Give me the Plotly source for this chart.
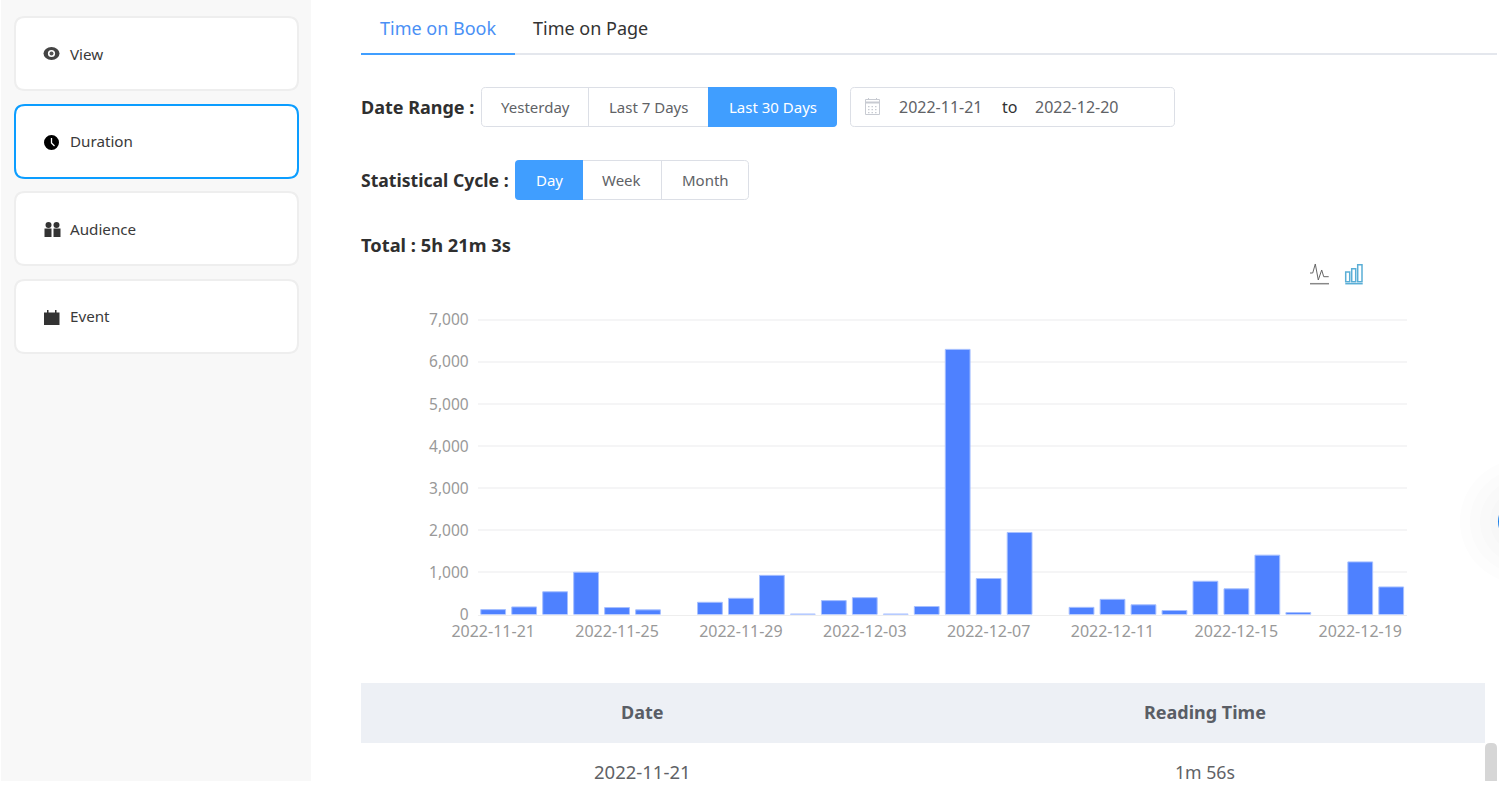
import plotly.graph_objects as go

W = 1499
H = 799

dates = ["2022-11-21", "2022-11-22", "2022-11-23", "2022-11-24", "2022-11-25", "2022-11-26",
         "2022-11-27", "2022-11-28", "2022-11-29", "2022-11-30", "2022-12-01", "2022-12-02",
         "2022-12-03", "2022-12-04", "2022-12-05", "2022-12-06", "2022-12-07", "2022-12-08",
         "2022-12-09", "2022-12-10", "2022-12-11", "2022-12-12", "2022-12-13", "2022-12-14",
         "2022-12-15", "2022-12-16", "2022-12-17", "2022-12-18", "2022-12-19", "2022-12-20"]
seconds = [116, 180, 540, 1005, 165, 110, 0, 290, 385, 930, 12, 330, 400, 12, 190,
           6300, 855, 1950, 0, 170, 360, 230, 95, 790, 610, 1410, 45, 0, 1250, 655]
x_ticks = dates[::4]
y_ticks = [0, 1000, 2000, 3000, 4000, 5000, 6000, 7000]

FONT = "Noto Sans"
BLUE = "#409eff"
BORDER = "#dcdfe6"

shapes = []
notes = []


def X(px):
    return px / W


def Y(py):
    return 1 - py / H


def rect(x0, y0, x1, y1, fill=None, line=None, lw=1):
    shapes.append(dict(type="rect", xref="paper", yref="paper", x0=X(x0), x1=X(x1), y0=Y(y0), y1=Y(y1),
                       fillcolor=fill or "rgba(0,0,0,0)", line=dict(color=line or "rgba(0,0,0,0)", width=lw)))


def circle(cx, cy, rx, ry=None, fill=None):
    ry = ry or rx
    shapes.append(dict(type="circle", xref="paper", yref="paper", x0=X(cx - rx), x1=X(cx + rx),
                       y0=Y(cy - ry), y1=Y(cy + ry), fillcolor=fill, line=dict(width=0)))


def line(points, color, lw=1):
    d = "M" + " L".join(f"{X(a):.5f},{Y(b):.5f}" for a, b in points)
    shapes.append(dict(type="path", xref="paper", yref="paper", path=d, line=dict(color=color, width=lw)))


# rounded box, corners given separately so button groups can square off one side
def rbox(x0, y0, x1, y1, r=4, fill=None, edge=None, lw=1, left=True, right=True):
    rl = r if left else 0
    rr = r if right else 0
    d = (f"M{X(x0 + rl):.5f},{Y(y0):.5f} L{X(x1 - rr):.5f},{Y(y0):.5f} "
         f"Q{X(x1):.5f},{Y(y0):.5f} {X(x1):.5f},{Y(y0 + rr):.5f} "
         f"L{X(x1):.5f},{Y(y1 - rr):.5f} Q{X(x1):.5f},{Y(y1):.5f} {X(x1 - rr):.5f},{Y(y1):.5f} "
         f"L{X(x0 + rl):.5f},{Y(y1):.5f} Q{X(x0):.5f},{Y(y1):.5f} {X(x0):.5f},{Y(y1 - rl):.5f} "
         f"L{X(x0):.5f},{Y(y0 + rl):.5f} Q{X(x0):.5f},{Y(y0):.5f} {X(x0 + rl):.5f},{Y(y0):.5f} Z")
    shapes.append(dict(type="path", xref="paper", yref="paper", path=d, fillcolor=fill or "rgba(0,0,0,0)",
                       line=dict(color=edge or "rgba(0,0,0,0)", width=lw)))


def text(px, py, s, size=15, color="#333333", anchor="left", bold=False):
    if bold:
        s = f"<b>{s}</b>"
    notes.append(dict(xref="paper", yref="paper", x=X(px), y=Y(py), text=s, showarrow=False, xanchor=anchor,
                      yanchor="middle", align=anchor, borderpad=0, borderwidth=0,
                      font=dict(family=FONT, size=size, color=color)))


# sidebar
rect(1, 0, 311, 781, fill="#f8f8f8")
cards = [("View", 17, 90, "#eeeeee", 54.2), ("Duration", 105, 178, "#0b9dff", 141.5),
         ("Audience", 192, 265, "#eeeeee", 229.2), ("Event", 280, 353, "#eeeeee", 316.2)]
for name, top, bottom, edge, label_y in cards:
    rbox(15, top, 298, bottom, r=10, fill="#ffffff", edge=edge, lw=2)
    text(70, label_y, name, size=15.2, color="#3a3a3a")

# eye
circle(51.5, 53.5, 8, 6.5, "#444444")
circle(51.5, 53.5, 3.6, None, "#ffffff")
circle(51.5, 53.5, 2, None, "#555555")
# clock
circle(51.5, 142.5, 7.5, None, "#000000")
line([(51.5, 138), (51.5, 143), (54.5, 146)], "#ffffff", 1.3)
# audience
circle(48.5, 225, 3, None, "#333333")
circle(56.5, 225, 3, None, "#333333")
rect(44.5, 228.5, 51.5, 237, fill="#333333")
rect(53.5, 228.5, 60.5, 237, fill="#333333")
# calendar
rect(44, 312.5, 59.5, 325, fill="#333333")
rect(47, 310, 48.5, 313, fill="#333333")
rect(55, 310, 56.5, 313, fill="#333333")

# tabs
text(380, 28, "Time on Book", size=18, color="#4a90f5")
text(533, 28, "Time on Page", size=18, color="#333333")
rect(361, 53, 1497, 55, fill="#e4e7ed")
rect(361, 53, 515, 55, fill=BLUE)

# date range
text(361, 106.7, "Date Range :", size=18, color="#2f2f2f", bold=True)
rbox(481.5, 87.5, 836.5, 126.5, fill="#ffffff", edge=BORDER)
rbox(708, 87, 837, 127, fill=BLUE, left=False)
line([(588.5, 87.5), (588.5, 126.5)], BORDER)
text(535, 107, "Yesterday", size=15, color="#606266", anchor="center")
text(648.5, 107, "Last 7 Days", size=15, color="#606266", anchor="center")
text(772.5, 107, "Last 30 Days", size=15, color="#ffffff", anchor="center")

rbox(850.5, 87.5, 1174.5, 126.5, fill="#ffffff", edge=BORDER)
rect(865.5, 99.5, 879.5, 114.5, line="#c8cbd2")
line([(865.5, 102.5), (879.5, 102.5)], "#c8cbd2", 2)
line([(868.5, 98), (868.5, 100)], "#c8cbd2")
line([(876.5, 98), (876.5, 100)], "#c8cbd2")
for dot_y in (106, 109, 112):
    for dot_x in (868, 871.5, 875):
        rect(dot_x, dot_y, dot_x + 1.5, dot_y + 1.2, fill="#c8cbd2")
text(940.5, 107, "2022-11-21", size=16, color="#606266", anchor="center")
text(1009.5, 107, "to", size=16, color="#303133", anchor="center")
text(1077, 107, "2022-12-20", size=16, color="#606266", anchor="center")

# statistical cycle
text(361, 179.7, "Statistical Cycle :", size=17.6, color="#2f2f2f", bold=True)
rbox(515.5, 160.5, 748.5, 199.5, fill="#ffffff", edge=BORDER)
rbox(515, 160, 583, 200, fill=BLUE, right=False)
line([(661.5, 160.5), (661.5, 199.5)], BORDER)
text(549, 180, "Day", size=15, color="#ffffff", anchor="center")
text(621.5, 180, "Week", size=15, color="#606266", anchor="center")
text(705, 180, "Month", size=15, color="#606266", anchor="center")

text(361, 244.5, "Total : 5h 21m 3s", size=18.3, color="#2f2f2f", bold=True)

# chart type switch
line([(1310, 273), (1312.7, 273), (1315.3, 264), (1318.3, 280), (1321.7, 270), (1323.7, 276.7), (1328.7, 276.7)],
     "#666666", 1)
line([(1310, 283.7), (1329, 283.7)], "#888888", 1.5)
rect(1345.7, 272, 1349.7, 281.7, line="#5aaed6", lw=1.5)
rect(1351.7, 268.7, 1355.7, 281.7, line="#5aaed6", lw=1.5)
rect(1357.7, 264.7, 1362, 281.7, line="#5aaed6", lw=1.5)
line([(1345.3, 283.7), (1362.7, 283.7)], "#5aaed6", 1.5)

# table
rect(361, 683, 1485, 743, fill="#edf0f5")
text(642.5, 711.7, "Date", size=18, color="#5a5e66", anchor="center", bold=True)
text(1204.5, 711.7, "Reading Time", size=18, color="#5a5e66", anchor="center", bold=True)
text(642.5, 771.7, dates[0], size=18.5, color="#606266", anchor="center")
text(1204.5, 771.7, "1m 56s", size=17.7, color="#606266", anchor="center")
rbox(1485, 743, 1497, 785, r=5, fill="#d6d6d6")
rect(1480, 781, 1499, 799, fill="#ffffff")

# floating button peeking in from the right edge, with its soft shadow
for radius in (62, 52, 42, 32):
    circle(1522, 521.5, radius, None, "rgba(120,120,120,0.012)")
circle(1522, 521.5, 24, None, "#1a7fe8")

# zero days get no outline, otherwise they show up as a thin stripe
outline = [0 if v == 0 else 1 for v in seconds]
fig = go.Figure(go.Bar(x=dates, y=seconds, width=0.8,
                       marker=dict(color="#4e81ff", line=dict(color="#a6bfff", width=outline))))

fig.update_layout(
    width=W,
    height=H,
    margin=dict(l=0, r=0, t=0, b=0, pad=0),
    paper_bgcolor="#ffffff",
    plot_bgcolor="#ffffff",
    showlegend=False,
    shapes=shapes,
    annotations=notes,
    font=dict(family=FONT),
)
fig.update_xaxes(
    domain=[X(477.7), X(1406.7)],
    automargin=False,
    type="category",
    tickmode="array",
    tickvals=x_ticks,
    ticktext=x_ticks,
    tickangle=0,
    tickfont=dict(size=16, color="#999999"),
    ticklabelstandoff=2,
    showgrid=False,
    showline=True,
    linecolor="#eeeeee",
    linewidth=1,
    ticks="",
    zeroline=False,
)
# range runs a bit past 7,000 because plotly drops a gridline sitting right on the plot edge
fig.update_yaxes(
    domain=[Y(614.5), Y(317.4)],
    automargin=False,
    range=[0, 7060],
    tickmode="array",
    tickvals=y_ticks,
    tickformat=",d",
    tickfont=dict(size=15.5, color="#999999"),
    ticklabelstandoff=8,
    gridcolor="#f5f5f6",
    gridwidth=2,
    zeroline=False,
    showline=False,
    ticks="",
)

fig.write_html("out.html", config=dict(displayModeBar=False),
               post_script="document.body.style.margin='0';document.body.style.overflow='hidden';")
